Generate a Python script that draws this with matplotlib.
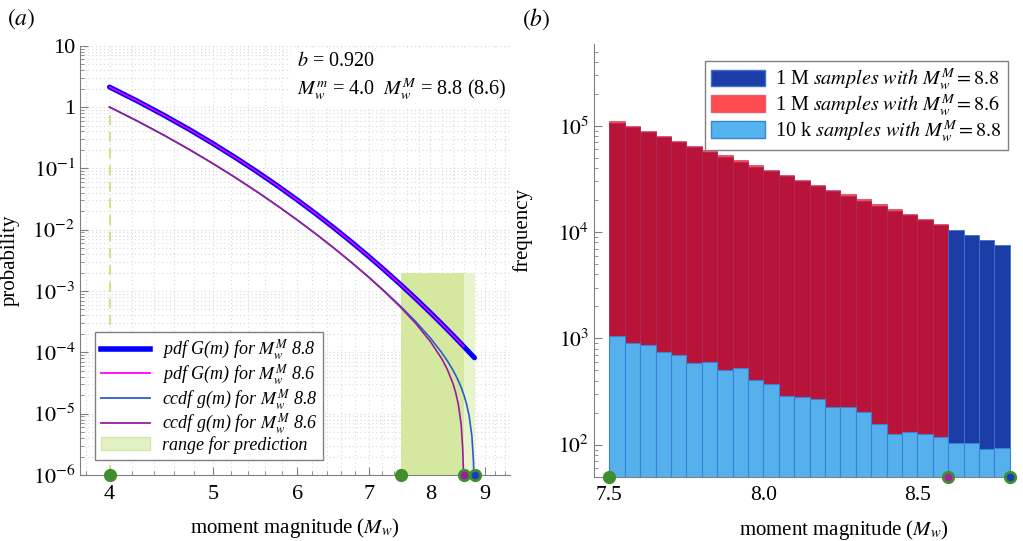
import matplotlib
matplotlib.use("Agg")
import matplotlib.pyplot as plt
from matplotlib.patches import Patch
from matplotlib.lines import Line2D
from matplotlib.ticker import FixedLocator, NullFormatter, FixedFormatter, LogLocator

plt.rcParams["font.family"] = ["Liberation Serif", "DejaVu Serif"]
plt.rcParams["mathtext.fontset"] = "stix"

# ---- panel (a): truncated G-R curves ----
m_pdf_88 = [4.0, 4.25, 4.5, 4.75, 5.0, 5.25, 5.5, 5.75, 6.0, 6.25, 6.5, 6.75,
            7.0, 7.25, 7.5, 7.75, 8.0, 8.2, 8.4, 8.6, 8.8]
pdf_88 = [2.118, 1.247, 0.734, 0.4325, 0.2546, 0.1499, 0.0883, 0.0520, 0.0306,
          0.01802, 0.01061, 0.00625, 0.00368, 0.002167, 0.001277, 0.000752,
          0.000443, 0.00029, 0.0001896, 0.0001241, 0.0000813]
m_pdf_86 = [4.0, 4.25, 4.5, 4.75, 5.0, 5.25, 5.5, 5.75, 6.0, 6.25, 6.5, 6.75,
            7.0, 7.25, 7.5, 7.75, 8.0, 8.2, 8.4, 8.6]
pdf_86 = [2.118, 1.247, 0.734, 0.4325, 0.2546, 0.1499, 0.0883, 0.0520, 0.0306,
          0.01802, 0.01061, 0.00625, 0.00368, 0.002167, 0.001277, 0.000752,
          0.000443, 0.00029, 0.0001896, 0.0001241]
m_ccdf_88 = [4.0, 4.25, 4.5, 4.75, 5.0, 5.25, 5.5, 5.75, 6.0, 6.25, 6.5, 6.75,
             7.0, 7.25, 7.5, 7.75, 8.0, 8.2, 8.3, 8.4, 8.45, 8.5, 8.55, 8.6,
             8.65, 8.7, 8.75, 8.78, 8.79, 8.8]
ccdf_88 = [1.0, 0.5888, 0.3467, 0.2042, 0.1202, 0.07075, 0.04165, 0.02451,
           0.01441, 0.00847, 0.00497, 0.00291, 0.0017, 0.000985, 0.000565,
           0.000317, 0.000171, 9.84e-5, 7.23e-5, 5.11e-5, 4.21e-5, 3.40e-5,
           2.68e-5, 2.02e-5, 1.435e-5, 9.0e-6, 4.3e-6, 1.66e-6, 8.3e-7, 1e-8]
m_ccdf_86 = [4.0, 4.25, 4.5, 4.75, 5.0, 5.25, 5.5, 5.75, 6.0, 6.25, 6.5, 6.75,
             7.0, 7.25, 7.5, 7.75, 8.0, 8.2, 8.3, 8.4, 8.45, 8.5, 8.55, 8.58,
             8.59, 8.6]
ccdf_86 = [1.0, 0.5887, 0.3466, 0.2041, 0.1201, 0.07073, 0.04163, 0.02449,
           0.01439, 0.00845, 0.00495, 0.00289, 0.00168, 0.000964, 0.000544,
           0.000296, 0.000150, 7.82e-5, 5.21e-5, 3.09e-5, 2.19e-5, 1.38e-5,
           6.6e-6, 2.5e-6, 1.26e-6, 1e-8]
m_min = 4.0
range_lo = 7.5
range_hi_86 = 8.6
range_hi_88 = 8.8
range_top = 2e-3

# ---- panel (b): histogram counts per 0.05 bin ----
bin_left = [7.5, 7.55, 7.6, 7.65, 7.7, 7.75, 7.8, 7.85, 7.9, 7.95, 8.0, 8.05,
            8.1, 8.15, 8.2, 8.25, 8.3, 8.35, 8.4, 8.45, 8.5, 8.55, 8.6, 8.65,
            8.7, 8.75]
bin_w = 0.05
counts_1m_86 = [110800, 99660, 89650, 80640, 72540, 65250, 58690, 52790, 47490,
                42720, 38420, 34560, 31090, 27970, 25160, 22630, 20350, 18310,
                16470, 14820, 13330, 11990]
counts_1m_88 = [107450, 96650, 86940, 78200, 70340, 63280, 56920, 51200, 46050,
                41420, 37260, 33520, 30150, 27120, 24390, 21940, 19740, 17750,
                15970, 14360, 12920, 11620, 10450, 9400, 8460, 7610]
counts_10k_88 = [1050, 912, 873, 746, 699, 588, 596, 501, 524, 407, 371, 288,
                 282, 266, 224, 224, 201, 156, 124, 131, 124, 116, 102, 102,
                 90, 93]

GRAY = "#808080"
DOT = "#3f8f2f"

fig = plt.figure(figsize=(10.23, 5.41), dpi=100)
ax = fig.add_axes([0.0782, 0.1220, 0.4203, 0.7935])
bx = fig.add_axes([0.5806, 0.1189, 0.4096, 0.7998])

# ---------------- (a) ----------------
ax.set_xscale("log")
ax.set_yscale("log")
ax.set_xlim(3.753, 9.5)
ax.set_ylim(1e-6, 10)
ax.set_axisbelow(True)

ax.fill_between([range_lo, range_hi_86], 1e-6, range_top, color="#d4e8a0",
                lw=0, zorder=1)
ax.fill_between([range_hi_86, range_hi_88], 1e-6, range_top, color="#e8f4cc",
                lw=0, zorder=1)
ax.plot([m_min, m_min], [1e-6, ccdf_88[0]], color="#c8e070", lw=1.2,
        ls=(0, (6, 4)), zorder=2)

ax.plot(m_pdf_88, pdf_88, color="#0000ff", lw=3.6, solid_capstyle="round", zorder=4)
ax.plot(m_pdf_86, pdf_86, color="#ff00ff", lw=1.1, zorder=5)
ax.plot(m_ccdf_88, ccdf_88, color="#2a5cd0", lw=1.2, zorder=4)
ax.plot(m_ccdf_86, ccdf_86, color="#9b1b9b", lw=1.2, zorder=4)

for xm, fc in [(m_min, DOT), (range_lo, DOT), (range_hi_86, "#a01aa0"),
               (range_hi_88, "#1a3cc0")]:
    ax.plot([xm], [1e-6], "o", ms=7.5, mfc=fc, mec=DOT, mew=2.0,
            clip_on=False, zorder=10)

ax.xaxis.set_major_locator(FixedLocator([4, 5, 6, 7, 8, 9]))
ax.xaxis.set_major_formatter(FixedFormatter(["4", "5", "6", "7", "8", "9"]))
ax.xaxis.set_minor_locator(FixedLocator([3.8 + 0.2 * i for i in range(29)]))
ax.xaxis.set_minor_formatter(NullFormatter())
ydec = [1e-6, 1e-5, 1e-4, 1e-3, 1e-2, 1e-1, 1, 10]
ax.yaxis.set_major_locator(FixedLocator(ydec))
ax.yaxis.set_major_formatter(FixedFormatter(
    [r"$10^{-6}$", r"$10^{-5}$", r"$10^{-4}$", r"$10^{-3}$", r"$10^{-2}$",
     r"$10^{-1}$", "1", "10"]))
ax.yaxis.set_minor_locator(LogLocator(base=10, subs=range(2, 10), numticks=20))
ax.yaxis.set_minor_formatter(NullFormatter())

ax.grid(True, which="both", color="#dadada", ls=(0, (1, 2.5)), lw=0.8)
for s in ["top", "right"]:
    ax.spines[s].set_visible(False)
for s in ["left", "bottom"]:
    ax.spines[s].set_color(GRAY)
ax.tick_params(which="both", direction="in", color=GRAY, labelsize=16)
ax.tick_params(which="major", length=6)
ax.tick_params(which="minor", length=3)
ax.tick_params(axis="x", pad=7)
ax.set_xlabel(r"moment magnitude ($M_w$)", fontsize=15)
ax.set_ylabel("probability", fontsize=15)
ax.yaxis.set_label_coords(-0.14, 0.5)
ax.xaxis.set_label_coords(0.5, -0.095)

ax.text(0.505, 0.985, r"$b$ = 0.920" "\n" r"$M_w^m$ = 4.0  $M_w^M$ = 8.8 (8.6)",
        transform=ax.transAxes, ha="left", va="top", fontsize=14.5,
        linespacing=1.3, zorder=6,
        bbox=dict(facecolor="white", edgecolor="none", pad=4))

handles_a = [
    Line2D([], [], color="#0000ff", lw=4),
    Line2D([], [], color="#ff00ff", lw=1.3),
    Line2D([], [], color="#2a5cd0", lw=1.3),
    Line2D([], [], color="#9b1b9b", lw=1.3),
    Patch(facecolor="#e2f0c4", edgecolor="#d0e8a8"),
]
labels_a = [
    r"pdf G(m) for $M_w^M$ 8.8",
    r"pdf G(m) for $M_w^M$ 8.6",
    r"ccdf g(m) for $M_w^M$ 8.8",
    r"ccdf g(m) for $M_w^M$ 8.6",
    "range for prediction",
]
leg = ax.legend(handles_a, labels_a, loc="lower left",
                bbox_to_anchor=(0.015, 0.015), fancybox=False, framealpha=1,
                edgecolor=GRAY, prop=dict(size=13, style="italic"),
                handlelength=2.7, labelspacing=0.0, borderpad=0.3,
                handletextpad=0.7)
leg.get_frame().set_linewidth(1.0)
leg.set_zorder(8)

# ---------------- (b) ----------------
bx.set_yscale("log")
bx.set_xlim(7.45, 8.81)
bx.set_ylim(50, 5.9e5)

bx.bar(bin_left[:len(counts_1m_86)], counts_1m_86, width=bin_w, align="edge",
       bottom=1, color="#ff4a50", edgecolor="#d03a60", lw=0.5, zorder=2)
colors_88 = ["#b8143a" if x < range_hi_86 - 1e-9 else "#1c3ca6" for x in bin_left]
edges_88 = ["#b02a5a" if x < range_hi_86 - 1e-9 else "#3f6fd0" for x in bin_left]
bx.bar(bin_left, counts_1m_88, width=bin_w, align="edge", bottom=1,
       color=colors_88, edgecolor=edges_88, lw=0.6, zorder=3)
bx.bar(bin_left, counts_10k_88, width=bin_w, align="edge", bottom=1,
       color="#55b0ec", edgecolor="#3a82d8", lw=0.8, zorder=4)

for xm, fc in [(range_lo, DOT), (range_hi_86, "#b01aa0"), (range_hi_88, "#1a3cc0")]:
    bx.plot([xm], [50], "o", ms=7.5, mfc=fc, mec=DOT, mew=2.0,
            clip_on=False, zorder=10)

bx.xaxis.set_major_locator(FixedLocator([7.5, 8.0, 8.5]))
bx.xaxis.set_major_formatter(FixedFormatter(["7.5", "8.0", "8.5"]))
bx.yaxis.set_major_locator(FixedLocator([1e2, 1e3, 1e4, 1e5]))
bx.yaxis.set_major_formatter(FixedFormatter(
    [r"$10^{2}$", r"$10^{3}$", r"$10^{4}$", r"$10^{5}$"]))
bx.yaxis.set_minor_locator(LogLocator(base=10, subs=range(2, 10), numticks=20))
bx.yaxis.set_minor_formatter(NullFormatter())
for s in ["top", "right"]:
    bx.spines[s].set_visible(False)
for s in ["left", "bottom"]:
    bx.spines[s].set_color(GRAY)
bx.tick_params(which="both", direction="in", color=GRAY, labelsize=15.5)
bx.tick_params(axis="x", length=0, pad=7)
bx.tick_params(axis="y", which="major", length=6)
bx.tick_params(axis="y", which="minor", length=3)
bx.set_xlabel(r"moment magnitude ($M_w$)", fontsize=15)
bx.set_ylabel("frequency", fontsize=15)
bx.xaxis.set_label_coords(0.597, -0.095)
bx.yaxis.set_label_coords(-0.148, 0.57)

handles_b = [
    Patch(facecolor="#1c3ca6", edgecolor="#3f6fd0"),
    Patch(facecolor="#ff4a50", edgecolor="#e06070"),
    Patch(facecolor="#55b4f0", edgecolor="#3a82d8"),
]
labels_b = [
    r"1 M $\mathit{samples\ with}\ M_w^M = 8.8$",
    r"1 M $\mathit{samples\ with}\ M_w^M = 8.6$",
    r"10 k $\mathit{samples\ with}\ M_w^M = 8.8$",
]
legb = bx.legend(handles_b, labels_b, loc="upper right",
                 bbox_to_anchor=(1.012, 0.985), fancybox=False, framealpha=1,
                 edgecolor=GRAY, fontsize=14.5, handlelength=2.7,
                 handleheight=0.9, labelspacing=0.0, borderpad=0.3,
                 handletextpad=0.5)
legb.get_frame().set_linewidth(1.0)
legb.set_zorder(8)

fig.text(21 / 1023, 1 - 19 / 541, r"$(a)$", fontsize=17, ha="center", va="center")
fig.text(536 / 1023, 1 - 19 / 541, r"$(b)$", fontsize=17, ha="center", va="center")

fig.savefig("out.png", dpi=100)
